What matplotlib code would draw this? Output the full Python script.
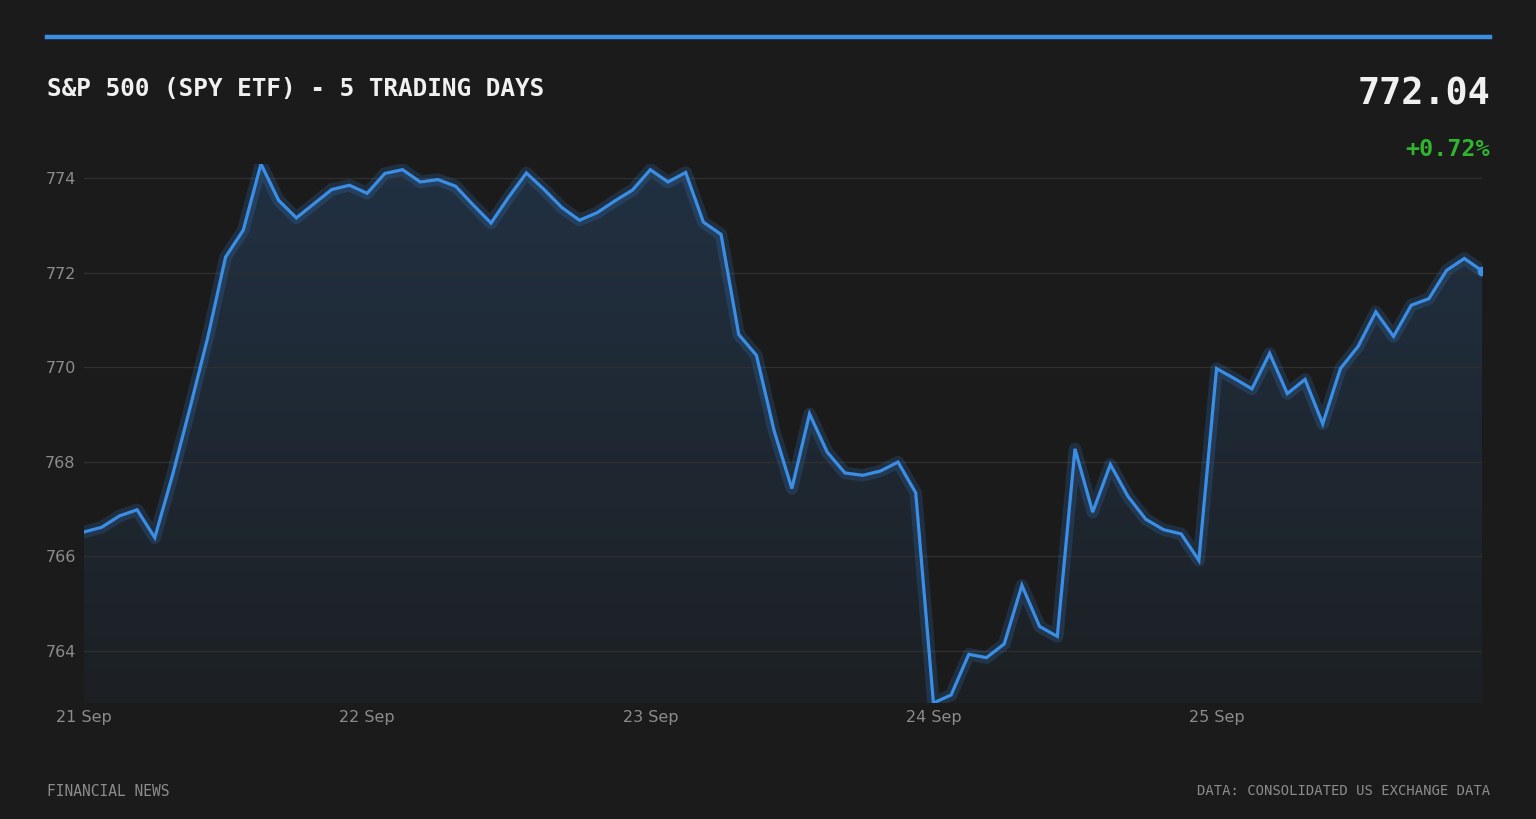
import numpy as np
import matplotlib.pyplot as plt
from matplotlib.patches import Polygon

# 16 intraday samples per trading day
days = ["21 Sep", "22 Sep", "23 Sep", "24 Sep", "25 Sep"]
points_per_day = 16

prices = [
    766.51, 766.61, 766.85, 766.98, 766.39, 767.71, 769.15, 770.64,
    772.33, 772.90, 774.30, 773.53, 773.16, 773.46, 773.76, 773.85,
    773.68, 774.10, 774.18, 773.92, 773.97, 773.83, 773.43, 773.05,
    773.60, 774.11, 773.76, 773.38, 773.11, 773.27, 773.52, 773.75,
    774.18, 773.92, 774.12, 773.07, 772.81, 770.69, 770.25, 768.65,
    767.43, 769.01, 768.20, 767.76, 767.71, 767.80, 767.99, 767.34,
    762.89, 763.06, 763.92, 763.85, 764.14, 765.38, 764.51, 764.30,
    768.27, 766.93, 767.94, 767.26, 766.78, 766.56, 766.47, 765.91,
    769.97, 769.76, 769.54, 770.29, 769.44, 769.74, 768.80, 769.97,
    770.44, 771.17, 770.65, 771.31, 771.45, 772.05, 772.30, 772.04,
]
y_ticks = [764, 766, 768, 770, 772, 774]

title = "S&P 500 (SPY ETF) - 5 TRADING DAYS"
source = "DATA: CONSOLIDATED US EXCHANGE DATA"
brand = "FINANCIAL NEWS"

bg = "#1b1b1b"
blue = "#3a8ee6"
mono = "DejaVu Sans Mono"

y = np.array(prices)
x = np.arange(len(y))
last = y[-1]
change = (y[-1] - y[0]) / y[0] * 100

fig = plt.figure(figsize=(15.36, 8.19), dpi=100, facecolor=bg)
ax = fig.add_axes([84 / 1536, 1 - 703 / 819, (1482 - 84) / 1536, (703 - 164) / 819])
ax.set_facecolor(bg)

ax.set_xlim(0, len(y) - 1)
ax.set_ylim(y.min(), y.max())

# gradient fill under the line
ymin, ymax = y.min(), y.max()
grad = np.linspace(1, 0, 256).reshape(-1, 1)
top_c = np.array([0.13, 0.19, 0.26])
bot_c = np.array([0.11, 0.12, 0.13])
img = top_c * grad[..., None] + bot_c * (1 - grad[..., None])
im = ax.imshow(img, extent=[0, len(y) - 1, ymin - 1, ymax], aspect="auto",
               origin="upper", zorder=1)
poly = Polygon(np.column_stack([np.r_[x, x[-1], x[0]], np.r_[y, ymin - 1, ymin - 1]]),
               closed=True, facecolor="none", edgecolor="none")
ax.add_patch(poly)
im.set_clip_path(poly)

# grid
for t in y_ticks:
    ax.axhline(t, color="#2f2f2f", lw=1, zorder=2)

# glow + line
ax.plot(x, y, color=blue, lw=9, alpha=0.18, zorder=3, solid_joinstyle="round")
ax.plot(x, y, color=blue, lw=2.3, zorder=4, solid_joinstyle="miter")
ax.plot(x[-1], y[-1], "o", color=blue, ms=6, zorder=5)

ax.set_yticks(y_ticks)
ax.set_yticklabels([str(t) for t in y_ticks])
ax.set_xticks([i * points_per_day for i in range(len(days))])
ax.set_xticklabels(days)
ax.tick_params(axis="both", length=0, colors="#8c8c8c", labelsize=11.5)
ax.tick_params(axis="x", pad=5)
ax.tick_params(axis="y", pad=6)
for s in ax.spines.values():
    s.set_visible(False)

# header
fig.add_artist(plt.Line2D([47 / 1536, 1490 / 1536], [1 - 37 / 819] * 2,
                          color=blue, lw=3.2, transform=fig.transFigure))
fig.text(47 / 1536, 1 - 89 / 819, title, color="#f0f0f0", fontsize=17.6,
         fontweight="bold", family=mono, va="center", ha="left")
fig.text(1490 / 1536, 1 - 94 / 819, f"{last:.2f}", color="#f0f0f0", fontsize=26.5,
         fontweight="bold", family=mono, va="center", ha="right")
fig.text(1490 / 1536, 1 - 150 / 819, f"+{change:.2f}%", color="#2fb52f", fontsize=16.8,
         fontweight="bold", family=mono, va="center", ha="right")

# footer
fig.text(47 / 1536, 1 - 791 / 819, brand, color="#8c8c8c", fontsize=10.5,
         family=mono, va="center", ha="left")
fig.text(1490 / 1536, 1 - 791 / 819, source, color="#8c8c8c", fontsize=10,
         family=mono, va="center", ha="right")

fig.savefig("out.png", dpi=100, facecolor=bg)
